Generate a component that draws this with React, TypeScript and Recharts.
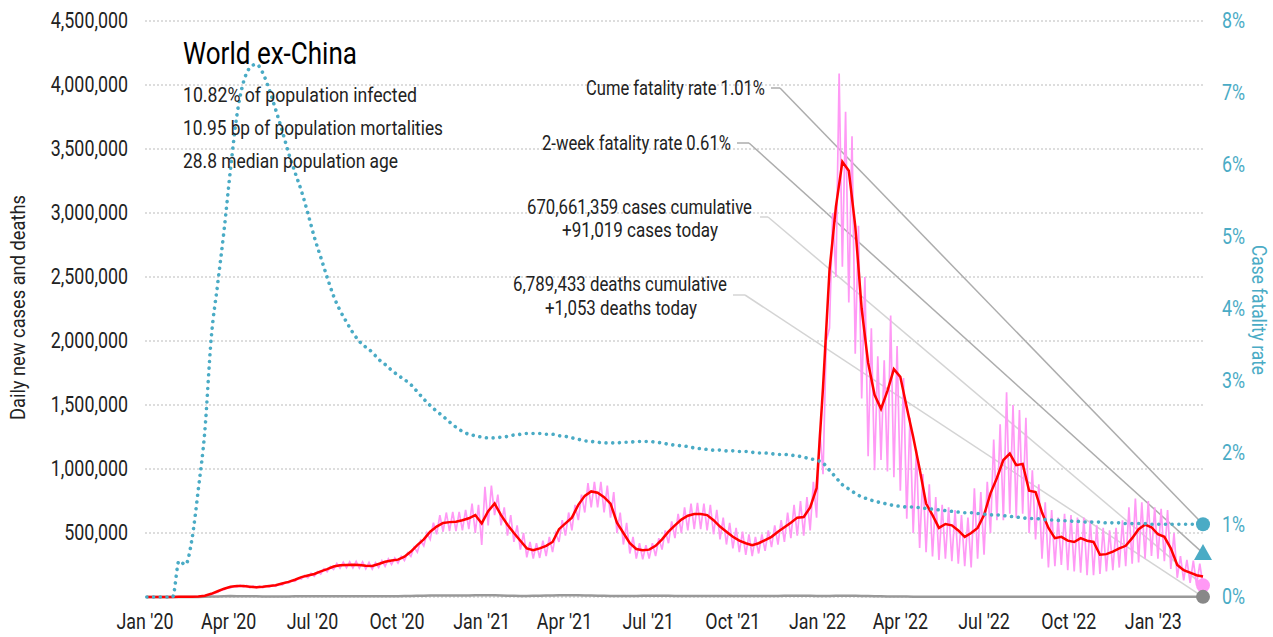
import React from "react";
import { LineChart, Line, XAxis, YAxis, CartesianGrid, ReferenceLine, ReferenceDot } from "recharts";

const FONT = "Roboto, sans-serif";
const SQUEEZE = 0.83;
const W = 1273;
const H = 637;
const PLOT = { left: 145, right: 1203, top: 21, bottom: 597 };
const DAY_MAX = 1150;
const LEFT_MAX = 4500000;
const RIGHT_MAX = 8;
const TEAL = "#4aabc5";
const PINK = "#ff99f5";

// weekly readings, one per week from 3 Jan 2020 (cases / deaths in thousands)
const avgCases = [
  0, 0, 0, 0, 0, 1, 1, 2, 4, 10,
  25, 45, 65, 80, 86, 85, 80, 76, 80, 86,
  92, 105, 118, 135, 155, 168, 180, 200, 218, 238,
  248, 250, 252, 250, 244, 242, 258, 275, 285, 292,
  315, 355, 405, 450, 510, 550, 578, 585, 588, 600,
  615, 640, 575, 670, 730, 640, 565, 500, 440, 380,
  365, 380, 400, 430, 530, 575, 620, 720, 790, 825,
  815, 780, 730, 580, 500, 420, 375, 365, 370, 400,
  450, 510, 560, 605, 635, 648, 648, 640, 600, 550,
  510, 470, 440, 420, 405, 420, 445, 470, 510, 545,
  580, 620, 625, 700, 850, 1640, 2550, 3050, 3400, 3330,
  2900, 2250, 1830, 1580, 1470, 1610, 1780, 1720, 1480, 1250,
  1000, 730, 640, 540, 570, 560, 520, 470, 500, 540,
  640, 810, 930, 1070, 1120, 1030, 1040, 830, 820, 660,
  540, 460, 470, 440, 430, 460, 440, 430, 330, 335,
  355, 380, 400, 460, 530, 565, 545, 490, 470, 380,
  250, 210, 190, 170, 160,
];

const casesHigh = [
  0, 0, 0, 0, 1, 1, 2, 3, 6, 14,
  30, 52, 72, 84, 92, 90, 86, 84, 88, 92,
  100, 115, 128, 145, 168, 185, 198, 220, 238, 262,
  272, 275, 278, 274, 270, 268, 285, 298, 305, 318,
  345, 390, 440, 500, 580, 640, 660, 665, 665, 680,
  730, 720, 860, 870, 800, 700, 640, 560, 500, 430,
  420, 440, 470, 500, 600, 660, 720, 800, 890, 900,
  900, 870, 820, 660, 580, 470, 420, 405, 420, 460,
  520, 590, 650, 700, 730, 735, 730, 720, 680, 620,
  580, 540, 510, 490, 470, 490, 520, 560, 600, 660,
  720, 750, 780, 900, 1300, 2000, 3000, 4090, 3790, 3600,
  2900, 2500, 2100, 1880, 1850, 2200, 1960, 1710, 1400, 1150,
  960, 880, 780, 720, 700, 680, 640, 620, 850, 820,
  900, 1230, 1350, 1600, 1500, 1460, 1400, 990, 880, 740,
  680, 620, 650, 640, 620, 620, 600, 560, 540, 520,
  540, 600, 700, 770, 740, 750, 700, 690, 680, 500,
  320, 290, 285, 260,
];

const casesLow = [
  0, 0, 0, 0, 0, 0, 1, 1, 2, 6,
  20, 38, 58, 72, 78, 78, 72, 70, 72, 78,
  84, 94, 108, 122, 140, 150, 162, 180, 198, 215,
  225, 228, 228, 225, 220, 218, 230, 240, 255, 265,
  285, 318, 350, 400, 450, 490, 510, 515, 515, 520,
  530, 500, 406, 560, 640, 560, 480, 430, 370, 310,
  300, 305, 320, 350, 430, 480, 520, 600, 660, 700,
  700, 660, 620, 500, 410, 340, 300, 295, 300, 320,
  370, 420, 460, 500, 520, 530, 530, 520, 490, 450,
  410, 380, 350, 330, 320, 340, 360, 390, 410, 430,
  460, 480, 480, 520, 620, 960, 2100, 2500, 2580, 2300,
  1900, 1550, 1100, 990, 1070, 980, 935, 830, 612, 500,
  383, 350, 316, 290, 300, 280, 260, 240, 230, 300,
  330, 500, 600, 600, 650, 620, 650, 500, 450, 300,
  230, 240, 250, 210, 200, 190, 170, 170, 180, 200,
  210, 230, 240, 260, 270, 300, 320, 300, 280, 220,
  150, 130, 110, 90, 91.019,
];

const deaths = [
  0, 0, 0, 0, 0, 0, 0, 0.1, 0.5, 1.5,
  3, 4.5, 6, 7, 6.5, 6, 5.5, 5, 4.5, 4.5,
  4.5, 4.5, 4.5, 5, 5, 5.5, 5.5, 5.5, 5.5, 5.5,
  5.5, 5.5, 5, 5, 5, 5, 5, 5.5, 6, 6.5,
  7.5, 8.5, 9.5, 10.5, 11, 11, 11, 11, 11.5, 12,
  12.5, 13, 14, 14, 13, 12, 10.5, 9.5, 8.5, 8.5,
  9, 10, 11, 12.5, 13.5, 14, 13.5, 13, 12, 11,
  10, 9, 8, 7.5, 7.5, 8, 8.5, 9.5, 10, 10,
  9.5, 9, 8.5, 8, 7.5, 7, 7, 7, 7, 7,
  7, 7.5, 7.5, 7.5, 7.5, 7, 7, 8, 8, 9,
  10, 10.5, 10.5, 9.5, 8.5, 8, 8.5, 9.5, 10, 10,
  9, 8, 7, 6, 5, 4.5, 4, 3.5, 3, 2.5,
  2.2, 2, 1.8, 1.8, 1.8, 1.8, 1.8, 1.8, 1.8, 1.8,
  1.8, 1.8, 1.8, 1.8, 1.8, 1.8, 1.8, 1.5, 1.5, 1.5,
  1.5, 1.5, 1.5, 1.5, 1.5, 1.5, 1.5, 1.5, 1.5, 1.5,
  1.5, 1.5, 1.5, 1.5, 1.5, 1.5, 1.5, 1.5, 1.5, 1.3,
  1.3, 1.2, 1.2, 1.1, 1.053,
];

// case fatality rate, %
const fatalityRate = [
  0, 0, 0, 0, 0, 0.5, 0.45, 0.8, 1.5, 2.3,
  3.6, 4.35, 5.1, 5.95, 6.7, 7.15, 7.35, 7.4, 7.28, 7.05,
  6.77, 6.48, 6.17, 5.9, 5.64, 5.33, 5.0, 4.72, 4.44, 4.18,
  3.98, 3.82, 3.67, 3.55, 3.47, 3.4, 3.3, 3.23, 3.15, 3.08,
  3.02, 2.95, 2.85, 2.75, 2.66, 2.58, 2.51, 2.43, 2.36, 2.3,
  2.26, 2.24, 2.22, 2.21, 2.21, 2.22, 2.23, 2.25, 2.26, 2.27,
  2.27, 2.27, 2.26, 2.26, 2.24, 2.23, 2.21, 2.19, 2.17, 2.16,
  2.15, 2.14, 2.14, 2.14, 2.15, 2.15, 2.16, 2.16, 2.16, 2.15,
  2.14, 2.12, 2.11, 2.1, 2.09, 2.07, 2.06, 2.05, 2.04, 2.04,
  2.03, 2.03, 2.02, 2.02, 2.01, 2.0, 2.0, 1.99, 1.98, 1.98,
  1.97, 1.96, 1.94, 1.92, 1.9, 1.86, 1.76, 1.66, 1.56, 1.5,
  1.44, 1.39, 1.36, 1.33, 1.31, 1.29, 1.27, 1.26, 1.25, 1.25,
  1.24, 1.23, 1.22, 1.21, 1.2, 1.19, 1.18, 1.17, 1.17, 1.16,
  1.15, 1.14, 1.14, 1.13, 1.12, 1.11, 1.1, 1.09, 1.09, 1.08,
  1.07, 1.07, 1.06, 1.06, 1.05, 1.05, 1.04, 1.04, 1.04, 1.03,
  1.03, 1.03, 1.02, 1.02, 1.02, 1.02, 1.01, 1.01, 1.01, 1.01,
  1.01, 1.01, 1.01, 1.01, 1.01,
];

const twoWeekRate = 0.61;

const dateTicks = [0, 91, 182, 274, 366, 456, 547, 639, 731, 821, 912, 1004, 1096];
const dateLabels = [
  "Jan '20", "Apr '20", "Jul '20", "Oct '20", "Jan '21", "Apr '21", "Jul '21",
  "Oct '21", "Jan '22", "Apr '22", "Jul '22", "Oct '22", "Jan '23",
];
const leftTicks = [0, 500000, 1000000, 1500000, 2000000, 2500000, 3000000, 3500000, 4000000, 4500000];
const rightTicks = [0, 1, 2, 3, 4, 5, 6, 7, 8];

const subtitle = [
  { text: "10.82% of population infected", len: 234 },
  { text: "10.95 bp of population mortalities", len: 260 },
  { text: "28.8 median population age", len: 215 },
];

const notes = [
  { text: "Cume fatality rate 1.01%", x: 586, y: 88, len: 179 },
  { text: "2-week fatality rate 0.61%", x: 542, y: 143, len: 189 },
  { text: "670,661,359 cases cumulative", x: 527, y: 207, len: 225 },
  { text: "+91,019 cases today", x: 562, y: 230, len: 156 },
  { text: "6,789,433 deaths cumulative", x: 513, y: 284, len: 214 },
  { text: "+1,053 deaths today", x: 545, y: 308, len: 152 },
];

const rows: any[] = [];
avgCases.forEach((avg, w) => {
  const day = 2 + 7 * w;
  rows.push({
    day,
    cases: casesLow[w] * 1000,
    avg: avg * 1000,
    cfr: fatalityRate[w],
    deaths: deaths[w] * 1000,
  });
  if (w < casesHigh.length) rows.push({ day: day + 3.5, cases: casesHigh[w] * 1000 });
});
const last = rows[rows.length - 1];

const pxToDay = (x: number) => ((x - PLOT.left) / (PLOT.right - PLOT.left)) * DAY_MAX;
const pxToLeft = (y: number) => ((PLOT.bottom - y) / (PLOT.bottom - PLOT.top)) * LEFT_MAX;
const pxToRight = (y: number) => ((PLOT.bottom - y) / (PLOT.bottom - PLOT.top)) * RIGHT_MAX;

const endDot = (fill: string) => (p: any) =>
  p.index === rows.length - 1 ? (
    <circle key={p.key} cx={p.cx} cy={p.cy} r={7} fill={fill} />
  ) : (
    <g key={p.key} />
  );

// narrow tick text: the reference uses a condensed face
const narrowTick =
  (anchor: string, fill: string, fmt: (v: number) => string) => (p: any) => (
    <g transform={`translate(${p.x},${p.y}) scale(${SQUEEZE},1)`}>
      <text
        x={0}
        y={0}
        textAnchor={anchor}
        dominantBaseline="central"
        fontFamily={FONT}
        fontSize={21.5}
        fill={fill}
      >
        {fmt(p.payload.value)}
      </text>
    </g>
  );

export default function App() {
  const leader = (
    axis: "left" | "right",
    x0: number,
    x1: number,
    y: number,
    endY: number,
    stroke: string
  ) => {
    const conv = axis === "left" ? pxToLeft : pxToRight;
    return [
      <ReferenceLine
        key={`h${y}`}
        yAxisId={axis}
        segment={[{ x: pxToDay(x0), y: conv(y) }, { x: pxToDay(x1), y: conv(y) }]}
        stroke={stroke}
        strokeWidth={1.5}
        ifOverflow="visible"
      />,
      <ReferenceLine
        key={`d${y}`}
        yAxisId={axis}
        segment={[{ x: pxToDay(x1), y: conv(y) }, { x: last.day, y: endY }]}
        stroke={stroke}
        strokeWidth={1.5}
        ifOverflow="visible"
      />,
    ];
  };

  return (
    <div style={{ position: "absolute", left: 0, top: 0, width: W, height: H, background: "#fff" }}>
      <LineChart
        width={W}
        height={H}
        data={rows}
        margin={{ top: PLOT.top, right: 8, left: 8, bottom: 0 }}
      >
        <CartesianGrid yAxisId="left" vertical={false} stroke="#bbb" strokeDasharray="2 2" />
        <XAxis
          dataKey="day"
          type="number"
          domain={[0, DAY_MAX]}
          ticks={dateTicks}
          axisLine={false}
          tickLine={false}
          tickSize={0}
          tickMargin={25}
          height={40}
          tick={narrowTick("middle", "#222", (v) => dateLabels[dateTicks.indexOf(v)])}
          interval={0}
        />
        <YAxis
          yAxisId="left"
          domain={[0, LEFT_MAX]}
          ticks={leftTicks}
          axisLine={false}
          tickLine={false}
          tickSize={0}
          tickMargin={17}
          width={137}
          tick={narrowTick("end", "#222", (v) => (v === 0 ? "" : v.toLocaleString("en-US")))}
          interval={0}
        />
        <YAxis
          yAxisId="right"
          orientation="right"
          domain={[0, RIGHT_MAX]}
          ticks={rightTicks}
          axisLine={false}
          tickLine={false}
          tickSize={0}
          tickMargin={19}
          width={62}
          tick={narrowTick("start", TEAL, (v) => `${v}%`)}
          interval={0}
        />
        {leader("right", 771, 780, 88, last.cfr, "#adadad")}
        {leader("right", 737, 749, 143, twoWeekRate, "#adadad")}
        {leader("left", 760, 768, 217, last.cases, "#d4d4d4")}
        {leader("left", 733, 745, 295, last.deaths, "#d4d4d4")}
        <Line
          yAxisId="left"
          dataKey="cases"
          stroke={PINK}
          strokeWidth={1.7}
          dot={endDot(PINK)}
          activeDot={false}
          isAnimationActive={false}
        />
        <Line
          yAxisId="left"
          dataKey="deaths"
          stroke="#999"
          strokeWidth={2.5}
          dot={endDot("#888")}
          activeDot={false}
          connectNulls
          isAnimationActive={false}
        />
        <Line
          yAxisId="left"
          dataKey="avg"
          stroke="#ff0000"
          strokeWidth={2.5}
          dot={false}
          activeDot={false}
          connectNulls
          isAnimationActive={false}
        />
        <Line
          yAxisId="right"
          dataKey="cfr"
          stroke={TEAL}
          strokeWidth={3.6}
          strokeLinecap="round"
          strokeDasharray="0.01 6.7"
          dot={endDot(TEAL)}
          activeDot={false}
          connectNulls
          type="monotone"
          isAnimationActive={false}
        />
        <ReferenceDot
          yAxisId="right"
          x={last.day}
          y={twoWeekRate}
          shape={(p: any) => (
            <path d={`M${p.cx},${p.cy - 9} L${p.cx + 9},${p.cy + 7} L${p.cx - 9},${p.cy + 7} Z`} fill={TEAL} />
          )}
        />
      </LineChart>
      <svg
        width={W}
        height={H}
        style={{ position: "absolute", left: 0, top: 0, pointerEvents: "none" }}
        fontFamily={FONT}
      >
        <text
          x={183}
          y={53}
          fontSize={31}
          fill="#000"
          dominantBaseline="central"
          textLength={174}
          lengthAdjust="spacingAndGlyphs"
        >
          World ex-China
        </text>
        {subtitle.map((s, i) => (
          <text
            key={s.text}
            x={183}
            y={95 + i * 33}
            fontSize={21}
            fill="#222"
            dominantBaseline="central"
            textLength={s.len}
            lengthAdjust="spacingAndGlyphs"
          >
            {s.text}
          </text>
        ))}
        {notes.map((n) => (
          <text
            key={n.text}
            x={n.x}
            y={n.y}
            fontSize={21}
            fill="#222"
            dominantBaseline="central"
            textLength={n.len}
            lengthAdjust="spacingAndGlyphs"
          >
            {n.text}
          </text>
        ))}
        <text
          transform="translate(18 420) rotate(-90)"
          fontSize={20}
          fill="#222"
          dominantBaseline="central"
          textLength={225}
          lengthAdjust="spacingAndGlyphs"
        >
          Daily new cases and deaths
        </text>
        <text
          transform="translate(1259 245) rotate(90)"
          fontSize={20}
          fill={TEAL}
          dominantBaseline="central"
          textLength={130}
          lengthAdjust="spacingAndGlyphs"
        >
          Case fatality rate
        </text>
      </svg>
    </div>
  );
}
